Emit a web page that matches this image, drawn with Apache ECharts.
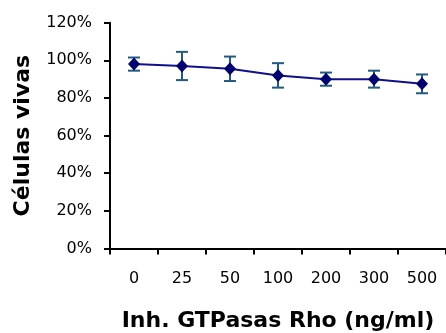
<!DOCTYPE html>
<html>
<head>
<meta charset="utf-8">
<script src="https://cdn.jsdelivr.net/npm/echarts@6/dist/echarts.min.js"></script>
<style>html,body{margin:0;padding:0;background:#fff}#c{width:446px;height:333px}</style>
</head>
<body>
<div id="c"></div>
<script>
const categories = ['0', '25', '50', '100', '200', '300', '500'];
const values = [98, 97, 95.5, 92, 90, 90, 87.5];
const errors = [3.5, 7.5, 6.5, 6.5, 3.5, 4.5, 5];
const yTicks = [0, 20, 40, 60, 80, 100, 120];

const errData = categories.map((c, i) => [i, values[i] - errors[i], values[i] + errors[i]]);

const chart = echarts.init(document.getElementById('c'), null, {renderer: 'canvas'});
chart.setOption({
  animation: false,
  backgroundColor: '#fff',
  grid: {left: 110, right: 0, top: 22.7, bottom: 84.5, containLabel: false, outerBoundsMode: 'none'},
  xAxis: {
    type: 'category',
    data: categories,
    boundaryGap: true,
    name: 'Inh. GTPasas Rho (ng/ml)',
    nameLocation: 'middle',
    nameGap: 62,
    nameTextStyle: {fontFamily: 'DejaVu Sans', fontWeight: 'bold', fontSize: 22, color: '#000'},
    axisLine: {lineStyle: {color: '#000', width: 2}},
    axisTick: {show: true, inside: false, length: 6, alignWithLabel: false, lineStyle: {color: '#000', width: 2}},
    axisLabel: {margin: 22, fontFamily: 'DejaVu Sans', fontSize: 16, color: '#000'},
    splitLine: {show: false}
  },
  yAxis: {
    type: 'value',
    min: yTicks[0],
    max: yTicks[yTicks.length - 1],
    interval: 20,
    name: 'Células vivas',
    nameLocation: 'middle',
    nameGap: 76,
    nameTextStyle: {fontFamily: 'DejaVu Sans', fontWeight: 'bold', fontSize: 22, color: '#000'},
    axisLine: {show: true, lineStyle: {color: '#000', width: 2}},
    axisTick: {show: true, length: 6, lineStyle: {color: '#000', width: 2}},
    axisLabel: {margin: 18, fontFamily: 'DejaVu Sans', fontSize: 16, color: '#000', formatter: v => v + '%'},
    splitLine: {show: false}
  },
  series: [
    {
      type: 'line',
      data: values,
      symbol: 'diamond',
      symbolSize: [12, 13],
      lineStyle: {color: '#10108a', width: 2},
      itemStyle: {color: '#00006e'},
      z: 3
    },
    {
      type: 'custom',
      data: errData,
      z: 2,
      renderItem: function (params, api) {
        const x = api.value(0);
        const lo = api.coord([x, api.value(1)]);
        const hi = api.coord([x, api.value(2)]);
        const w = 6;
        const style = {stroke: '#245a80', lineWidth: 2, fill: null};
        return {
          type: 'group',
          children: [
            {type: 'line', shape: {x1: hi[0], y1: hi[1], x2: lo[0], y2: lo[1]}, style: style},
            {type: 'line', shape: {x1: hi[0] - w, y1: hi[1], x2: hi[0] + w, y2: hi[1]}, style: style},
            {type: 'line', shape: {x1: lo[0] - w, y1: lo[1], x2: lo[0] + w, y2: lo[1]}, style: style}
          ]
        };
      }
    }
  ]
});
</script>
</body>
</html>
